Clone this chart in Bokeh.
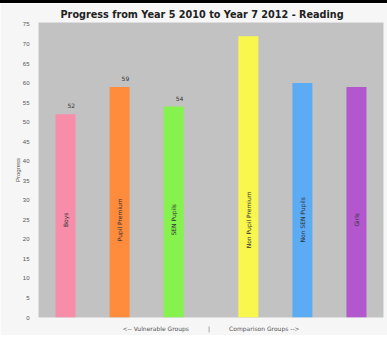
from math import pi

from bokeh.core.properties import value
from bokeh.embed import file_html
from bokeh.models import (BooleanFilter, CDSView, ColumnDataSource, FactorRange,
                          FixedTicker, Range1d, Title)
from bokeh.plotting import figure
from bokeh.resources import INLINE

# Pupil groups, split into the vulnerable groups and their comparison groups
sides = ["Vulnerable", "Vulnerable", "Vulnerable", "Comparison", "Comparison", "Comparison"]
pupil_groups = ["Boys", "Pupil Premium", "SEN Pupils", "Non Pupil Premium", "Non SEN Pupils", "Girls"]
progress = [52, 59, 54, 72, 60, 59]
show_value = [True, True, True, False, False, False]
bar_colors = ["#f78da9", "#ff8b3d", "#86f24e", "#f9f74e", "#5cabf5", "#b357cf"]
y_ticks = list(range(0, 80, 5))

factors = list(zip(sides, pupil_groups))
source = ColumnDataSource(dict(
    x=factors,
    top=progress,
    label=[str(v) for v in progress],
    name=pupil_groups,
    color=bar_colors,
    mid=[y_ticks[5]] * len(progress),
))

p = figure(
    x_range=FactorRange(*factors, factor_padding=0.0, group_padding=0.38, range_padding=0.0),
    y_range=Range1d(0, 75.5),
    width=387, height=335,
    output_backend="svg", toolbar_location=None,
    title="Progress from Year 5 2010 to Year 7 2012 - Reading",
    min_border_left=38, min_border_right=4, min_border_top=15, min_border_bottom=21,
    styles={"border-top": "3px solid #000000"},
)
p.background_fill_color = "#c2c2c2"
p.border_fill_color = "#f6f6f6"
p.outline_line_color = None
p.grid.visible = False

p.title.align = "left"
p.title.offset = 22
p.title.text_font = "DejaVu Sans"
p.title.text_font_size = "9.7px"
p.title.text_font_style = "bold"
p.title.text_color = "#222222"
p.title.standoff = 6

p.vbar(x="x", top="top", width=0.37, fill_color="color", line_color=None, source=source)

# value printed just above the top of the vulnerable-group bars
p.text(x="x", y="top", text="label", source=source,
       view=CDSView(filter=BooleanFilter(show_value)),
       text_align="left", text_baseline="bottom", x_offset=2, y_offset=-6,
       text_font=value("DejaVu Sans"), text_font_size="6px", text_color="#333333")

# group name written up the middle of each bar
p.text(x="x", y="mid", text="name", source=source, angle=pi / 2, text_align="center",
       text_baseline="middle", text_font=value("DejaVu Sans"), text_font_size="6px",
       text_color="#333333")

p.yaxis.ticker = FixedTicker(ticks=y_ticks)
p.yaxis.axis_line_color = None
p.yaxis.major_tick_line_color = None
p.yaxis.minor_tick_line_color = None
p.yaxis.major_label_text_font_size = "6px"
p.yaxis.major_label_text_color = "#555555"
p.yaxis.major_label_standoff = 3
p.yaxis.axis_label = "Progress"
p.yaxis.axis_label_text_font_size = "6px"
p.yaxis.axis_label_text_font_style = "normal"
p.yaxis.axis_label_text_color = "#555555"
p.yaxis.axis_label_standoff = -1

p.xaxis.visible = False

# caption under the bars naming the two halves of the chart
nb = "\u00a0"
caption = Title(text="<-- Vulnerable Groups" + nb * 10 + "|" + nb * 10 + "Comparison Groups -->",
                align="center", vertical_align="bottom", text_font="DejaVu Sans",
                text_font_size="6px", text_font_style="normal", text_color="#555555",
                standoff=11)
p.add_layout(caption, "below")

open("out.html", "w").write(file_html(p, INLINE))
